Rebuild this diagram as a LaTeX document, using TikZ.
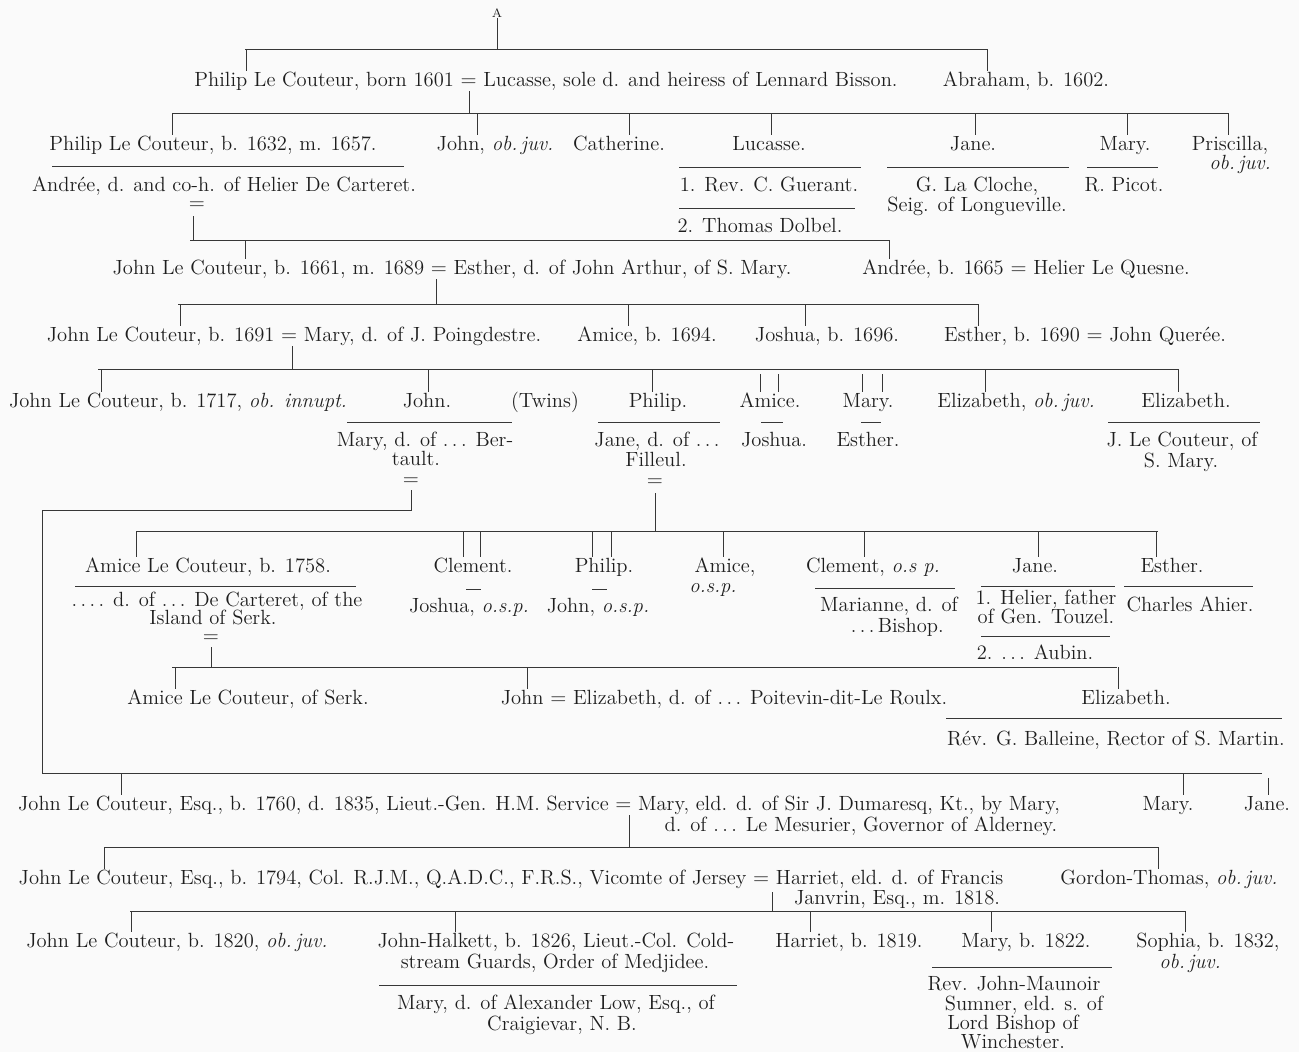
\documentclass[tikz,border=0pt]{standalone}
\usepackage{tikz}
\definecolor{paper}{RGB}{250,250,250}
\definecolor{ink}{RGB}{30,30,30}
\definecolor{rule}{RGB}{55,55,55}
\begin{document}
\begin{tikzpicture}[x=0.02cm, y=-0.02cm,
		every node/.style={inner sep=0pt, text=ink, text height=8.5pt, text depth=2.5pt, font=\fontsize{11.7}{13}\selectfont},
		marr/.style={text height=3pt, text depth=0pt},
		bar/.style={rule, line width=0.5pt}]
		\fill [paper] (0,0) rectangle (1299,1052);
		\useasboundingbox (0,0) rectangle (1299,1052);
		% Philip, born 1601
		\node [text height=5pt, text depth=0pt] (topA) at (497,13) {\scriptsize A};
		\node (p1601) at (546,81) {Philip Le Couteur, born 1601 $=$ Lucasse, sole d. and heiress of Lennard Bisson.};
		\node (abraham) at (1026,81) {Abraham, b. 1602.};
		\draw [bar] (topA.south) -- (497,49);
		\draw [bar] (245,49) -- (987,49);
		\draw [bar] (246,49) -- (246,0 |- p1601.north);
		\draw [bar] (987,49) -- (987,0 |- abraham.north);
		\draw [bar] (469,0 |- p1601.south) -- (469,113);
		% children of Philip and Lucasse
		\node (p1632) at (213,145) {Philip Le Couteur, b. 1632, m. 1657.};
		\node (john1) at (495,145) {John, \textit{ob.\,juv.}};
		\node (catherine) at (619,145) {Catherine.};
		\node (lucasse) at (769,145) {Lucasse.};
		\node (jane1) at (973,145) {Jane.};
		\node (mary1) at (1125,145) {Mary.};
		\node (priscilla) at (1230,145) {Priscilla,};
		\node (priscilla2) at (1240,164) {\textit{ob.\,juv.}};
		\draw [bar] (172,113) -- (1228,113);
		\draw [bar] (172,113) -- (172,0 |- p1632.north);
		\draw [bar] (477,113) -- (477,0 |- john1.north);
		\draw [bar] (629,113) -- (629,0 |- catherine.north);
		\draw [bar] (771,113) -- (771,0 |- lucasse.north);
		\draw [bar] (975,113) -- (975,0 |- jane1.north);
		\draw [bar] (1127,113) -- (1127,0 |- mary1.north);
		\draw [bar] (1228,113) -- (1228,0 |- priscilla.north);
		\draw [bar] (52,166) -- (404,166);
		\draw [bar] (679,167) -- (861,167);
		\draw [bar] (887,167) -- (1069,167);
		\draw [bar] (1087,167) -- (1158,167);
		\node (andree1) at (224,186) {Andrée, d. and co-h. of Helier De Carteret.};
		\node (guerant) at (769,186) {1. Rev. C. Guerant.};
		\draw [bar] (679,208) -- (855,208);
		\node (dolbel) at (760,227) {2. Thomas Dolbel.};
		\node (cloche) at (977,186) {G. La Cloche,};
		\node (cloche2) at (977,206) {Seig. of Longueville.};
		\node (picot) at (1124,186) {R. Picot.};
		\node [marr] (eq1) at (197,207) {$=$};
		\draw [bar] (193,216) -- (193,240);
		% John, b. 1661
		\draw [bar] (190,240) -- (890,240);
		\node (john1661) at (452,269) {John Le Couteur, b. 1661, m. 1689 $=$ Esther, d. of John Arthur, of S. Mary.};
		\node (andree1665) at (1026,269) {Andrée, b. 1665 $=$ Helier Le Quesne.};
		\draw [bar] (245,240) -- (245,0 |- john1661.north);
		\draw [bar] (889,240) -- (889,0 |- andree1665.north);
		\draw [bar] (436,0 |- john1661.south) -- (436,304);
		% John, b. 1691
		\draw [bar] (178,304) -- (978,304);
		\node (john1691) at (294,336) {John Le Couteur, b. 1691 $=$ Mary, d. of J. Poingdestre.};
		\node (amice1694) at (647,336) {Amice, b. 1694.};
		\node (joshua1696) at (827,336) {Joshua, b. 1696.};
		\node (esther1690) at (1085,336) {Esther, b. 1690 $=$ John Querée.};
		\draw [bar] (180,304) -- (180,0 |- john1691.north);
		\draw [bar] (628,304) -- (628,0 |- amice1694.north);
		\draw [bar] (805,304) -- (805,0 |- joshua1696.north);
		\draw [bar] (978,304) -- (978,0 |- esther1690.north);
		\draw [bar] (292,0 |- john1691.south) -- (292,369);
		% children of John and Mary
		\draw [bar] (98,369) -- (1178,369);
		\node (john1717) at (178,402) {John Le Couteur, b. 1717, \textit{ob. innupt.}};
		\node (john2) at (427,402) {John.};
		\node (twins) at (545,402) {(Twins)};
		\node (philip2) at (658,402) {Philip.};
		\node (amice2) at (770,402) {Amice.};
		\node (mary2) at (868,402) {Mary.};
		\node (elizjuv) at (1016,402) {Elizabeth, \textit{ob.\,juv.}};
		\node (eliz1) at (1186,402) {Elizabeth.};
		\draw [bar] (101,369) -- (101,0 |- john1717.north);
		\draw [bar] (428,369) -- (428,0 |- john2.north);
		\draw [bar] (652,369) -- (652,0 |- philip2.north);
		\draw [bar] (760,374) -- (760,0 |- amice2.north);
		\draw [bar] (778,374) -- (778,0 |- amice2.north);
		\draw [bar] (862,374) -- (862,0 |- mary2.north);
		\draw [bar] (882,374) -- (882,0 |- mary2.north);
		\draw [bar] (985,369) -- (985,0 |- elizjuv.north);
		\draw [bar] (1178,369) -- (1178,0 |- eliz1.north);
		\draw [bar] (347,422) -- (512,422);
		\draw [bar] (598,422) -- (720,422);
		\draw [bar] (761,422) -- (783,422);
		\draw [bar] (861,422) -- (881,422);
		\draw [bar] (1108,422) -- (1260,422);
		\node (bertault) at (425,441) {Mary, d. of .\,.\,. Ber-};
		\node (bertault2) at (416,460) {tault.};
		\node (filleul) at (657,441) {Jane, d. of .\,.\,.};
		\node (filleul2) at (656,461) {Filleul.};
		\node (joshua2) at (774,441) {Joshua.};
		\node (esther2) at (868,441) {Esther.};
		\node (jlc) at (1182,441) {J. Le Couteur, of};
		\node (jlc2) at (1181,462) {S. Mary.};
		\node [marr] (eq2) at (411,483) {$=$};
		\node [marr] (eq3) at (655,484) {$=$};
		\draw [bar] (411,490) -- (411,510) -- (42,510) -- (42,773) -- (1262,773);
		\draw [bar] (655,493) -- (655,531);
		% children of Philip and Jane
		\draw [bar] (136,531) -- (1158,531);
		\node (amice1758) at (208,567) {Amice Le Couteur, b. 1758.};
		\node (clement1) at (473,567) {Clement.};
		\node (philip3) at (604,567) {Philip.};
		\node (amice3) at (725,567) {Amice,};
		\node (amice3b) at (713,587) {\textit{o.s.p.}};
		\node (clement2) at (873,567) {Clement, \textit{o.s p.}};
		\node (jane2) at (1035,567) {Jane.};
		\node (esther3) at (1172,567) {Esther.};
		\draw [bar] (136,531) -- (136,0 |- amice1758.north);
		\draw [bar] (463,531) -- (463,0 |- clement1.north);
		\draw [bar] (480,531) -- (480,0 |- clement1.north);
		\draw [bar] (592,531) -- (592,0 |- philip3.north);
		\draw [bar] (611,531) -- (611,0 |- philip3.north);
		\draw [bar] (723,531) -- (723,0 |- amice3.north);
		\draw [bar] (864,531) -- (864,0 |- clement2.north);
		\draw [bar] (1038,531) -- (1038,0 |- jane2.north);
		\draw [bar] (1156,531) -- (1156,0 |- esther3.north);
		\draw [bar] (75,586) -- (356,586);
		\draw [bar] (466,589) -- (481,589);
		\draw [bar] (592,589) -- (607,589);
		\draw [bar] (815,588) -- (955,588);
		\draw [bar] (981,586) -- (1115,586);
		\draw [bar] (1124,586) -- (1253,586);
		\node (carteret) at (217,601) {.\,.\,.\,. d. of .\,.\,. De Carteret, of the};
		\node (carteret2) at (213,619) {Island of Serk.};
		\node (joshua3) at (469,607) {Joshua, \textit{o.s.p.}};
		\node (john3) at (598,607) {John, \textit{o.s.p.}};
		\node (marianne) at (889,606) {Marianne, d. of};
		\node [anchor=east] (marianne2) at (944,627) {.\,.\,.\,Bishop.};
		\node (helier) at (1046,599) {1. Helier, father};
		\node (helier2) at (1046,618) {of Gen. Touzel.};
		\draw [bar] (981,636) -- (1110,636);
		\node (aubin) at (1035,654) {2. .\,.\,. Aubin.};
		\node (ahier) at (1190,606) {Charles Ahier.};
		\node [marr] (eq4) at (211,640) {$=$};
		\draw [bar] (211,647) -- (211,667);
		% children of Amice, b. 1758
		\draw [bar] (172,667) -- (1117,667);
		\node (amiceserk) at (248,699) {Amice Le Couteur, of Serk.};
		\node (johnroulx) at (724,699) {John $=$ Elizabeth, d. of .\,.\,. Poitevin-dit-Le Roulx.};
		\node (eliz2) at (1126,699) {Elizabeth.};
		\draw [bar] (175,667) -- (175,0 |- amiceserk.north);
		\draw [bar] (527,667) -- (527,0 |- johnroulx.north);
		\draw [bar] (1118,667) -- (1118,0 |- eliz2.north);
		\draw [bar] (946,718) -- (1282,718);
		\node (balleine) at (1116,740) {Rév. G. Balleine, Rector of S. Martin.};
		% John, b. 1760
		\node (john1760) at (539,805) {John Le Couteur, Esq., b. 1760, d. 1835, Lieut.-Gen. H.M. Service $=$ Mary, eld. d. of Sir J. Dumaresq, Kt., by Mary,};
		\node (mesurier) at (861,826) {d. of .\,.\,. Le Mesurier, Governor of Alderney.};
		\node (mary3) at (1168,805) {Mary.};
		\node (jane3) at (1267,805) {Jane.};
		\draw [bar] (121,773) -- (121,0 |- john1760.north);
		\draw [bar] (1183,773) -- (1183,0 |- mary3.north);
		\draw [bar] (1268,778) -- (1268,0 |- jane3.north);
		\draw [bar] (629,0 |- john1760.south) -- (629,847);
		% John, b. 1794
		\draw [bar] (105,847) -- (1158,847);
		\node (john1794) at (511,879) {John Le Couteur, Esq., b. 1794, Col. R.J.M., Q.A.D.C., F.R.S., Vicomte of Jersey $=$ Harriet, eld. d. of Francis};
		\node (janvrin) at (897,899) {Janvrin, Esq., m. 1818.};
		\node (gordon) at (1169,879) {Gordon-Thomas, \textit{ob.\,juv.}};
		\draw [bar] (104,847) -- (104,0 |- john1794.north);
		\draw [bar] (1158,847) -- (1158,0 |- gordon.north);
		\draw [bar] (772,892) -- (772,911);
		% children of John and Harriet
		\draw [bar] (130,911) -- (1185,911);
		\node (john1820) at (177,942) {John Le Couteur, b. 1820, \textit{ob.\,juv.}};
		\node (halkett) at (556,942) {John-Halkett, b. 1826, Lieut.-Col. Cold-};
		\node (halkett2) at (555,963) {stream Guards, Order of Medjidee.};
		\node (harriet) at (849,942) {Harriet, b. 1819.};
		\node (mary1822) at (1026,942) {Mary, b. 1822.};
		\node (sophia) at (1208,942) {Sophia, b. 1832,};
		\node (sophia2) at (1190,963) {\textit{ob.\,juv.}};
		\draw [bar] (131,911) -- (131,0 |- john1820.north);
		\draw [bar] (455,911) -- (455,0 |- halkett.north);
		\draw [bar] (810,911) -- (810,0 |- harriet.north);
		\draw [bar] (991,911) -- (991,0 |- mary1822.north);
		\draw [bar] (1185,911) -- (1185,0 |- sophia.north);
		\draw [bar] (379,985) -- (737,985);
		\node (low) at (556,1004) {Mary, d. of Alexander Low, Esq., of};
		\node (low2) at (562,1025) {Craigievar, N. B.};
		\draw [bar] (932,967) -- (1112,967);
		\node (sumner) at (1014,985) {Rev. John-Maunoir};
		\node (sumner2) at (1024,1005) {Sumner, eld. s. of};
		\node (sumner3) at (1013,1024) {Lord Bishop of};
		\node [text depth=1pt] (sumner4) at (1013,1042) {Winchester.};
\end{tikzpicture}
\end{document}
